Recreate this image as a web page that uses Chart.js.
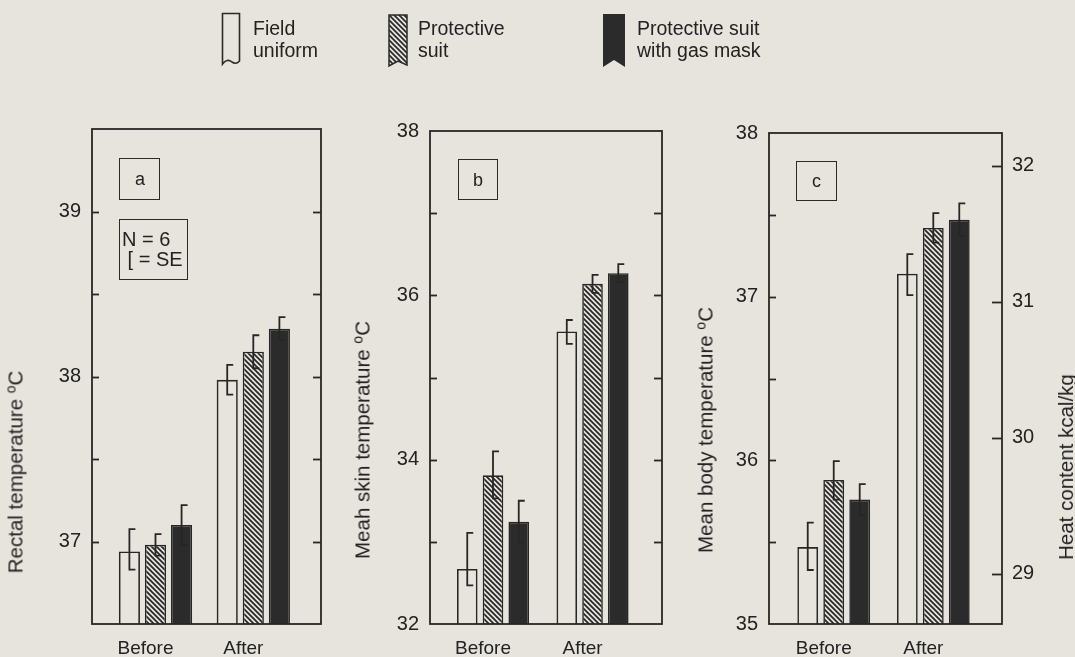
<!DOCTYPE html>
<html><head><meta charset="utf-8">
<script src="https://cdn.jsdelivr.net/npm/chart.js@4.4.1/dist/chart.umd.min.js"></script>
<style>
html,body{margin:0;padding:0;background:#e7e4dd;width:1075px;height:657px;overflow:hidden;font-family:"Liberation Sans",Arial,sans-serif;color:#222}
canvas{position:absolute;left:0;top:0}
.t{position:absolute;white-space:nowrap;font-size:20.5px;transform:translate(-50%,-50%) rotate(-90deg)}
.t sup{font-size:14px;vertical-align:7px}
.box{position:absolute;border:1.6px solid #2a2a2a;box-sizing:border-box;font-size:18px}
.lg{position:absolute;font-size:19.5px;line-height:22px;white-space:nowrap}
svg{position:absolute}
</style></head><body>
<canvas id="ca" width="1075" height="657"></canvas>
<canvas id="cb" width="1075" height="657"></canvas>
<canvas id="cc" width="1075" height="657"></canvas>

<svg style="left:221px;top:12px" width="22" height="56"><path d="M1.5 1.5 H18.5 V49 Q15 53 11 50 Q6 46 1.5 52 Z" fill="none" stroke="#2a2a2a" stroke-width="1.6"/></svg>
<div class="lg" style="left:253px;top:17px">Field<br>uniform</div>
<svg style="left:388px;top:14px" width="22" height="56"><defs><pattern id="hp" width="5" height="5" patternUnits="userSpaceOnUse"><rect width="5" height="5" fill="#e7e4dd"/><path d="M-1,-1 L6,6 M-1,4 L1,6 M4,-1 L6,1" stroke="#2a2a2a" stroke-width="1.7"/></pattern></defs><path d="M1 1 H19 V51 L10 47 L1 52 Z" fill="url(#hp)" stroke="#2a2a2a" stroke-width="1.5"/></svg>
<div class="lg" style="left:418px;top:17px">Protective<br>suit</div>
<svg style="left:603px;top:14px" width="24" height="56"><path d="M0 0 H22 V53 L11 46 L0 53 Z" fill="#2b2b2b"/></svg>
<div class="lg" style="left:637px;top:17px">Protective suit<br>with gas mask</div>

<div class="t" style="left:15px;top:472px">Rectal temperature <sup>o</sup>C</div>
<div class="t" style="left:362px;top:440px">Meah skin temperature <sup>o</sup>C</div>
<div class="t" style="left:705px;top:430px">Mean body temperature <sup>o</sup>C</div>
<div class="t" style="left:1066px;top:467px">Heat content kcal/kg</div>

<div class="box" style="left:119px;top:158px;width:41px;height:42px"><span style="position:absolute;left:15px;top:10px">a</span></div>
<div class="box" style="left:119px;top:219px;width:69px;height:61px;font-size:20px;line-height:20px;padding:9px 0 0 2px">N = 6<br>&nbsp;[ = SE</div>
<div class="box" style="left:458px;top:159px;width:40px;height:41px"><span style="position:absolute;left:14px;top:10px">b</span></div>
<div class="box" style="left:796px;top:161px;width:41px;height:40px"><span style="position:absolute;left:15px;top:9px">c</span></div>

<script>
// ---------- data ----------
const categories = ['Before', 'After'];
const seriesNames = ['Field uniform', 'Protective suit', 'Protective suit with gas mask'];

// (a) Rectal temperature, °C
const rectalField = [36.94, 37.98];
const rectalSuit  = [36.98, 38.15];
const rectalMask  = [37.10, 38.29];
const rectalErrUp   = [[0.135, 0.09], [0.065, 0.10], [0.12, 0.07]];
const rectalErrDown = [[0.11, 0.09], [0.065, 0.10], [0.12, 0.07]];
const rectalTicks = [37, 38, 39];

// (b) Mean skin temperature, °C
const skinField = [32.67, 35.56];
const skinSuit  = [33.81, 36.14];
const skinMask  = [33.245, 36.27];
const skinErrUp   = [[0.44, 0.14], [0.29, 0.11], [0.255, 0.11]];
const skinErrDown = [[0.20, 0.15], [0.28, 0.11], [0.255, 0.11]];
const skinTicks = [32, 34, 36, 38];

// (c) Mean body temperature, °C (right axis: heat content kcal/kg)
const bodyField = [35.47, 37.14];
const bodySuit  = [35.88, 37.42];
const bodyMask  = [35.76, 37.47];
const bodyErrUp   = [[0.15, 0.12], [0.115, 0.09], [0.095, 0.10]];
const bodyErrDown = [[0.14, 0.13], [0.12, 0.09], [0.095, 0.10]];
const bodyTicks = [35, 36, 37, 38];
const heatTicks = [29, 30, 31, 32];

// ---------- style ----------
const paper = '#e7e4dd', ink = '#262626', dark = '#2b2b2b', textCol = '#222';
Chart.defaults.font.family = '"Liberation Sans", Arial, sans-serif';
Chart.defaults.color = textCol;

function hatchPattern(ctx) {
  const c = document.createElement('canvas'); c.width = c.height = 5;
  const g = c.getContext('2d');
  g.fillStyle = paper; g.fillRect(0, 0, 5, 5);
  g.strokeStyle = ink; g.lineWidth = 1.7;
  g.beginPath();
  g.moveTo(-1, -1); g.lineTo(6, 6);
  g.moveTo(-1, 4); g.lineTo(1, 6);
  g.moveTo(4, -1); g.lineTo(6, 1);
  g.stroke();
  return ctx.createPattern(c, 'repeat');
}

const decor = {
  id: 'decor',
  afterDatasetsDraw(chart, args, o) {
    const ctx = chart.ctx, a = chart.chartArea;
    ctx.save();
    ctx.strokeStyle = ink; ctx.lineWidth = 1.8; ctx.lineCap = 'butt';
    chart.data.datasets.forEach((ds, di) => {
      const meta = chart.getDatasetMeta(di);
      const ys = chart.scales[meta.yAxisID];
      meta.data.forEach((el, i) => {
        const v = ds.data[i].y;
        const top = ys.getPixelForValue(v + ds.errUp[i]);
        const bot = ys.getPixelForValue(v - ds.errDown[i]);
        ctx.beginPath();
        ctx.moveTo(el.x + 6, top); ctx.lineTo(el.x, top);
        ctx.lineTo(el.x, bot); ctx.lineTo(el.x + 6, bot);
        ctx.stroke();
      });
    });
    ctx.strokeRect(a.left, a.top, a.right - a.left, a.bottom - a.top);
    (o.marks || []).forEach(m => {
      const sc = chart.scales[m.axis];
      const x0 = m.side === 'left' ? a.left : a.right;
      const dir = m.side === 'left' ? 1 : -1;
      sc.ticks.forEach(t => {
        if (Math.abs(t.value - sc.min) < 1e-6 || Math.abs(t.value - sc.max) < 1e-6) return;
        const y = Math.round(sc.getPixelForValue(t.value)) + 0.5;
        ctx.beginPath(); ctx.moveTo(x0, y); ctx.lineTo(x0 + dir * m.len, y); ctx.stroke();
      });
    });
    ctx.restore();
  }
};

function makePanel(id, p) {
  const canvas = document.getElementById(id);
  const ctx = canvas.getContext('2d');
  const fills = ['rgba(0,0,0,0)', hatchPattern(ctx), dark];
  const datasets = p.series.map((vals, s) => ({
    label: seriesNames[s],
    data: vals.map((v, i) => ({ x: i, y: v })),
    backgroundColor: fills[s],
    borderColor: ink,
    borderWidth: 1.6,
    borderSkipped: 'bottom',
    categoryPercentage: p.catPct,
    barPercentage: p.barPct,
    errUp: p.errUp[s],
    errDown: p.errDown[s]
  }));
  const scales = {
    x: {
      type: 'linear', min: p.xMin, max: p.xMax, offset: false,
      grid: { display: false, drawTicks: false }, border: { display: false },
      afterBuildTicks: s => { s.ticks = categories.map((c, i) => ({ value: i })); },
      afterFit: s => { s.height = 30; },
      ticks: { callback: v => categories[Math.round(v)], labelOffset: -10, padding: 13,
               maxRotation: 0, autoSkip: false, font: { size: 19 }, color: textCol }
    },
    y: {
      type: 'linear', position: 'left', min: p.yMin, max: p.yMax,
      grid: { display: false, drawTicks: false }, border: { display: false },
      afterFit: s => { s.width = 40; },
      ticks: { stepSize: p.step, padding: 11, font: { size: 20 }, color: textCol,
               callback: v => p.labels.includes(v) ? String(v) : '' }
    }
  };
  const marks = [{ axis: 'y', side: 'left', len: 7 }];
  if (p.right) {
    scales.y1 = {
      type: 'linear', position: 'right', min: p.right.min, max: p.right.max,
      grid: { display: false, drawTicks: false }, border: { display: false },
      afterFit: s => { s.width = 40; },
      ticks: { stepSize: 1, includeBounds: false, padding: 10, font: { size: 20 }, color: textCol,
               callback: v => p.right.labels.includes(v) ? String(v) : '' }
    };
    marks.push({ axis: 'y1', side: 'right', len: 10 });
  } else {
    marks.push({ axis: 'y', side: 'right', len: 8 });
  }
  return new Chart(ctx, {
    type: 'bar',
    data: { datasets },
    options: {
      responsive: false, animation: false,
      layout: { padding: p.pad },
      scales,
      plugins: { legend: { display: false }, tooltip: { enabled: false }, decor: { marks } }
    },
    plugins: [decor]
  });
}

makePanel('ca', {
  series: [rectalField, rectalSuit, rectalMask], errUp: rectalErrUp, errDown: rectalErrDown,
  yMin: 36.5, yMax: 39.5, step: 0.5, labels: rectalTicks,
  xMin: -0.649, xMax: 1.692, catPct: 0.80, barPct: 0.81,
  pad: { left: 52, right: 754, top: 129, bottom: 3 }
});
makePanel('cb', {
  series: [skinField, skinSuit, skinMask], errUp: skinErrUp, errDown: skinErrDown,
  yMin: 32, yMax: 38, step: 1, labels: skinTicks,
  xMin: -0.633, xMax: 1.698, catPct: 0.776, barPct: 0.80,
  pad: { left: 390, right: 413, top: 131, bottom: 3 }
});
makePanel('cc', {
  series: [bodyField, bodySuit, bodyMask], errUp: bodyErrUp, errDown: bodyErrDown,
  yMin: 35, yMax: 38, step: 0.5, labels: bodyTicks,
  xMin: -0.650, xMax: 1.690, catPct: 0.783, barPct: 0.80,
  right: { min: 28.63, max: 32.24, labels: heatTicks },
  pad: { left: 729, right: 33, top: 133, bottom: 3 }
});
</script>
</body></html>
